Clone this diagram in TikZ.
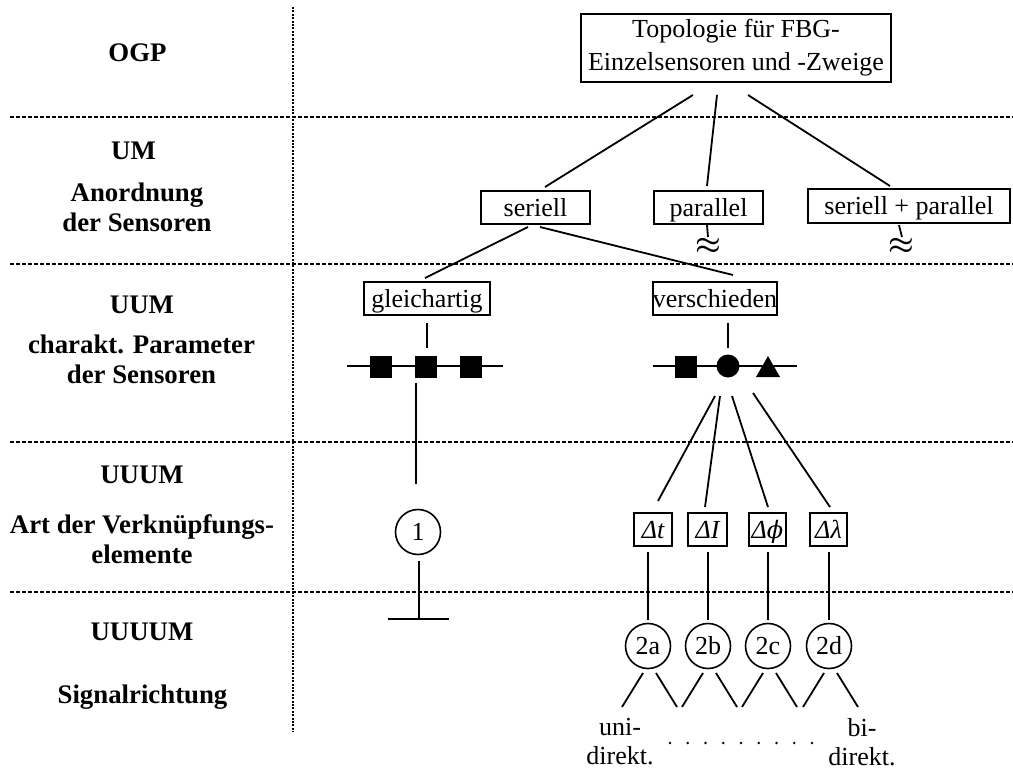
\documentclass[tikz,border=0pt]{standalone}
\usepackage{fontspec}
\setmainfont{Liberation Serif}
\newfontfamily\greekit{DejaVu Serif}
\begin{document}
\begin{tikzpicture}[x=0.5pt,y=-0.5pt,
  txt/.style={inner sep=0pt, align=center, font=\fontsize{13}{15}\selectfont},
  lab/.style={inner sep=0pt, align=center, font=\fontsize{13.4}{15}\selectfont\bfseries},
  box/.style={draw, line width=0.8pt, inner sep=0pt, align=center, font=\fontsize{13}{16.5}\selectfont},
  onebox/.style={box, text height=10.3pt, text depth=1.6pt, minimum height=16.5pt},
  ring/.style={draw, circle, line width=0.8pt, inner sep=0pt, minimum size=22.5pt, font=\fontsize{13}{15}\selectfont},
  wave/.style={inner sep=0pt, font=\fontsize{15}{15}\selectfont\boldmath},
  con/.style={line width=0.9pt},
  hsep/.style={line width=0.55pt, dash pattern=on 2pt off 1pt},
  vsep/.style={line width=0.65pt, dash pattern=on 1pt off 0.7pt},
  blk/.style={fill=black, draw=none, inner sep=0pt}
]
\useasboundingbox (0,0) rectangle (1013,771);

% level separators
\coordinate (vtop) at (293,7);
\coordinate (vbot) at (293,732);
\draw[vsep] (vtop) -- (vbot);
\foreach \yy/\nm in {117/s1,264/s2,442/s3,592/s4}{
  \coordinate (\nm l) at (10,\yy);
  \coordinate (\nm r) at (1013,\yy);
  \draw[hsep] (\nm l) -- (\nm r);
}

% level labels
\node[lab, anchor=base] (ogp) at (137.5,61.5) {OGP};
\node[lab, anchor=base] (um) at (133.5,159) {UM};
\node[lab] (umtxt) at (137,207) {Anordnung\\der Sensoren};
\node[lab, anchor=base] (uum) at (142,313) {UUM};
\node[lab] (uumtxt) at (141.5,359) {charakt. Parameter\\der Sensoren};
\node[lab, anchor=base] (uuum) at (142,483) {UUUM};
\node[lab] (uuumtxt) at (142,539) {Art der Verknüpfungs-\\elemente};
\node[lab, anchor=base] (uuuum) at (142,640) {UUUUM};
\node[lab, anchor=base] (sig) at (142.5,703) {Signalrichtung};

% top node
\node[box, minimum width=155pt, minimum height=34pt] (top) at (736,48)
  {Topologie für FBG-\\Einzelsensoren und -Zweige};

% arrangement
\node[onebox, minimum width=54.5pt] (ser) at (535.5,207.5) {seriell};
\node[onebox, minimum width=54.5pt] (par) at (708.5,207.5) {parallel};
\node[onebox, minimum width=101pt, minimum height=17pt] (serpar) at (909,206) {seriell + parallel};

\coordinate (a1) at (693,95);  \coordinate (b1) at (545,187);
\coordinate (a2) at (717,95);  \coordinate (b2) at (707,186);
\coordinate (a3) at (748,95);  \coordinate (b3) at (890,186);
\draw[con] (a1) -- (b1);
\draw[con] (a2) -- (b2);
\draw[con] (a3) -- (b3);

% continuation marks
\node[wave] (wpar) at (708,246.5) {$\approx$};
\node[wave] (wserpar) at (901,246.5) {$\approx$};
\coordinate (p1) at (707,225); \coordinate (p2) at (708,237);
\coordinate (q1) at (899,225); \coordinate (q2) at (902,237);
\draw[con] (p1) -- (p2);
\draw[con] (q1) -- (q2);

% parameter level
\node[onebox, minimum width=63pt] (gleich) at (427,298.5) {gleichartig};
\node[onebox, minimum width=55pt] (versch) at (715,298.5) {verschieden};
\coordinate (s1a) at (528,227); \coordinate (s1b) at (425,278);
\coordinate (s2a) at (540,227); \coordinate (s2b) at (733,275);
\draw[con] (s1a) -- (s1b);
\draw[con] (s2a) -- (s2b);

\coordinate (g1) at (427,323); \coordinate (g2) at (427,348);
\coordinate (v1) at (728,323); \coordinate (v2) at (728,348);
\draw[con] (g1) -- (g2);
\draw[con] (v1) -- (v2);

% sensor chains
\coordinate (cl1) at (347,366); \coordinate (cl2) at (503,366);
\coordinate (cr1) at (653,366); \coordinate (cr2) at (797,366);
\draw[con] (cl1) -- (cl2);
\draw[con] (cr1) -- (cr2);
\node[blk, minimum size=11pt] (sq1) at (380.5,366.5) {};
\node[blk, minimum size=11pt] (sq2) at (425.5,366.5) {};
\node[blk, minimum size=11pt] (sq3) at (470.5,366.5) {};
\node[blk, minimum size=11pt] (sq4) at (686,366.5) {};
\node[blk, circle, minimum size=11.5pt] (dot) at (728,366) {};
\fill (756,377) -- (780,377) -- (768,356) -- cycle;

% link elements
\node[ring] (one) at (418,532) {1};
\coordinate (l1) at (416,383); \coordinate (l2) at (416,484);
\draw[con] (l1) -- (l2);
\coordinate (l3) at (419,561); \coordinate (tbar) at (419,619);
\coordinate (tl) at (388,619); \coordinate (tr) at (449,619);
\draw[con] (l3) -- (tbar);
\draw[con] (tl) -- (tr);

\node[onebox, minimum width=19pt] (dt) at (653,529.5) {\itshape Δt};
\node[onebox, minimum width=19.5pt] (dI) at (707.5,529.5) {\itshape ΔI};
\node[onebox, minimum width=18.5pt] (dphi) at (767.5,529.5) {{\itshape Δ}{\greekit\itshape\fontsize{12}{15}\selectfont ϕ}};
\node[onebox, minimum width=18.5pt] (dlam) at (828.5,529.5) {\itshape Δλ};

\coordinate (f1) at (715,396); \coordinate (e1) at (658,501);
\coordinate (f2) at (720,396); \coordinate (e2) at (705,507);
\coordinate (f3) at (732,396); \coordinate (e3) at (768,507);
\coordinate (f4) at (753,393); \coordinate (e4) at (830,507);
\draw[con] (f1) -- (e1);
\draw[con] (f2) -- (e2);
\draw[con] (f3) -- (e3);
\draw[con] (f4) -- (e4);

% signal direction
\foreach \cx/\nm/\lb in {648/ca/2a,708/cb/2b,768/cc/2c,829/cd/2d}{
  \node[ring] (\nm) at (\cx,646) {\lb};
  \coordinate (\nm t) at (\cx,552);
  \coordinate (\nm u) at (\cx,620);
  \draw[con] (\nm t) -- (\nm u);
  \coordinate (\nm l1) at (\cx-5,673);  \coordinate (\nm l2) at (\cx-26,707);
  \coordinate (\nm r1) at (\cx+8,673);  \coordinate (\nm r2) at (\cx+29,707);
  \draw[con] (\nm l1) -- (\nm l2);
  \draw[con] (\nm r1) -- (\nm r2);
}

\node[txt, font=\fontsize{13}{14.5}\selectfont] (uni) at (620,742) {uni-\\direkt.};
\node[txt, font=\fontsize{13}{14.5}\selectfont] (bi) at (862,742) {bi-\\direkt.};
\foreach \i in {0,...,8}{
  \fill (670+\i*17.75,743) circle (0.65pt);
}
\end{tikzpicture}
\end{document}
